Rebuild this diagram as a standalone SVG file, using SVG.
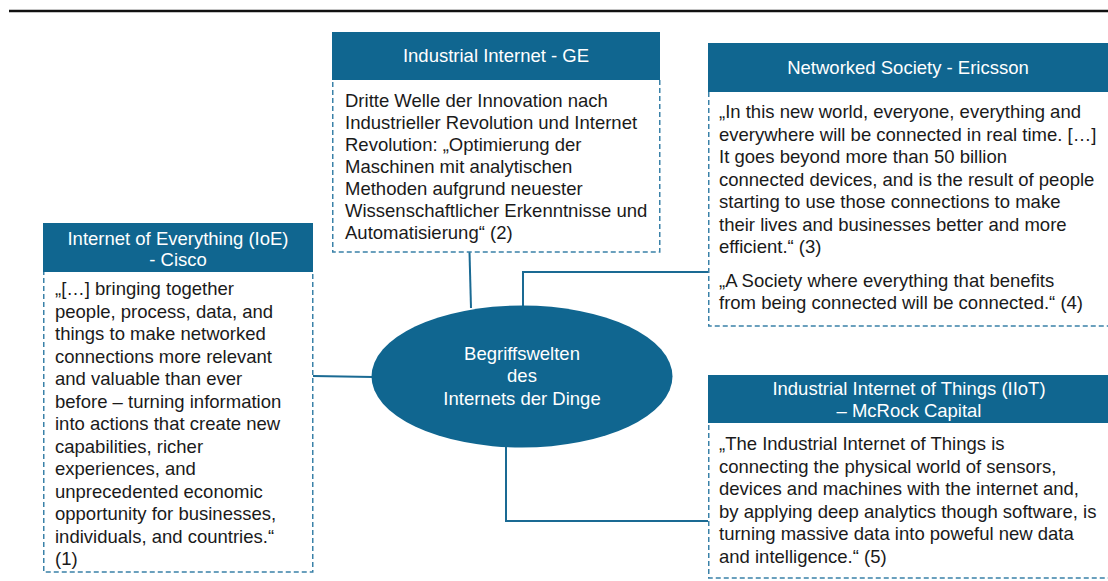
<svg xmlns="http://www.w3.org/2000/svg" width="1108" height="581" viewBox="0 0 1108 581">
<style>
text{font-family:"Liberation Sans",Arial,sans-serif;font-size:18.5px}
.hd{fill:#106690}
.ht{fill:#ffffff;text-anchor:middle}
.bd{fill:#ffffff;stroke:#3a81a8;stroke-width:1.5;stroke-dasharray:5 3}
.bt{fill:#1a1a1a}
.cn{fill:none;stroke:#1a6a93;stroke-width:2}
</style>
<rect width="1108" height="581" fill="#ffffff"/>
<line x1="9" y1="11" x2="1108" y2="11" stroke="#111" stroke-width="2.5"/>
<g id="connectors">
<line class="cn" x1="469.5" y1="252" x2="471" y2="308"/>
<polyline class="cn" points="523,307 523,272 708,272"/>
<line class="cn" x1="313" y1="376" x2="373" y2="377"/>
<polyline class="cn" points="506,446 506,521 708,521"/>
</g>
<g id="ge">
<rect class="bd" x="332.75" y="79" width="327" height="173"/>
<rect class="hd" x="332" y="32" width="328" height="48"/>
<text class="ht" x="496" y="62">Industrial Internet - GE</text>
<text class="bt" x="345" y="107">Dritte Welle der Innovation nach</text>
<text class="bt" x="345" y="129">Industrieller Revolution und Internet</text>
<text class="bt" x="345" y="151">Revolution: „Optimierung der</text>
<text class="bt" x="345" y="173">Maschinen mit analytischen</text>
<text class="bt" x="345" y="195">Methoden aufgrund neuester</text>
<text class="bt" x="345" y="217">Wissenschaftlicher Erkenntnisse und</text>
<text class="bt" x="345" y="239">Automatisierung“ (2)</text>
</g>
<g id="ericsson">
<rect class="bd" x="708.75" y="91" width="404" height="235"/>
<rect class="hd" x="708" y="43" width="402" height="49"/>
<text class="ht" x="908" y="74">Networked Society - Ericsson</text>
<text class="bt" x="719" y="118">„In this new world, everyone, everything and</text>
<text class="bt" x="719" y="140.5">everywhere will be connected in real time. […]</text>
<text class="bt" x="719" y="163">It goes beyond more than 50 billion</text>
<text class="bt" x="719" y="185.5">connected devices, and is the result of people</text>
<text class="bt" x="719" y="208">starting to use those connections to make</text>
<text class="bt" x="719" y="230.5">their lives and businesses better and more</text>
<text class="bt" x="719" y="253">efficient.“ (3)</text>
<text class="bt" x="719" y="287">„A Society where everything that benefits</text>
<text class="bt" x="719" y="309">from being connected will be connected.“ (4)</text>
</g>
<g id="cisco">
<rect class="bd" x="43.75" y="271" width="269" height="301"/>
<rect class="hd" x="43" y="223" width="270" height="49"/>
<text class="ht" x="178" y="245">Internet of Everything (IoE)</text>
<text class="ht" x="178" y="266">- Cisco</text>
<text class="bt" x="55" y="295">„[…] bringing together</text>
<text class="bt" x="55" y="317.5">people, process, data, and</text>
<text class="bt" x="55" y="340">things to make networked</text>
<text class="bt" x="55" y="362.5">connections more relevant</text>
<text class="bt" x="55" y="385">and valuable than ever</text>
<text class="bt" x="55" y="407.5">before – turning information</text>
<text class="bt" x="55" y="430">into actions that create new</text>
<text class="bt" x="55" y="452.5">capabilities, richer</text>
<text class="bt" x="55" y="475">experiences, and</text>
<text class="bt" x="55" y="497.5">unprecedented economic</text>
<text class="bt" x="55" y="520">opportunity for businesses,</text>
<text class="bt" x="55" y="542.5">individuals, and countries.“</text>
<text class="bt" x="55" y="565">(1)</text>
</g>
<g id="mcrock">
<rect class="bd" x="708.75" y="422" width="404" height="156"/>
<rect class="hd" x="708" y="375" width="402" height="48"/>
<text class="ht" x="909" y="395">Industrial Internet of Things (IIoT)</text>
<text class="ht" x="909" y="417">– McRock Capital</text>
<text class="bt" x="719" y="450">„The Industrial Internet of Things is</text>
<text class="bt" x="719" y="472.6">connecting the physical world of sensors,</text>
<text class="bt" x="719" y="495.2">devices and machines with the internet and,</text>
<text class="bt" x="719" y="517.8">by applying deep analytics though software, is</text>
<text class="bt" x="719" y="540.4">turning massive data into poweful new data</text>
<text class="bt" x="719" y="563">and intelligence.“ (5)</text>
</g>
<g id="center">
<ellipse cx="522" cy="376.5" rx="150.5" ry="71" fill="#106690"/>
<text class="ht" x="522" y="360">Begriffswelten</text>
<text class="ht" x="522" y="382">des</text>
<text class="ht" x="522" y="405">Internets der Dinge</text>
</g>
</svg>
